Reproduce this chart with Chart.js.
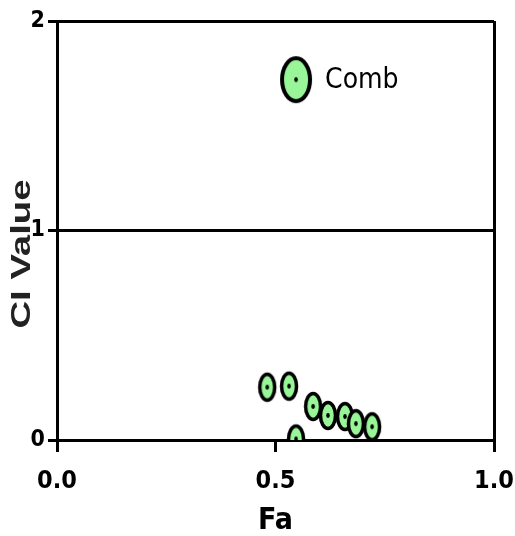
<!DOCTYPE html>
<html>
<head>
<meta charset="utf-8">
<script src="https://cdn.jsdelivr.net/npm/chart.js@4"></script>
<style>
html,body{margin:0;padding:0;background:#fff;}
#wrap{width:515px;height:536px;}
</style>
</head>
<body>
<div id="wrap"><canvas id="c" width="515" height="536"></canvas></div>
<script>
const faValues = [0.547, 0.481, 0.531, 0.547, 0.586, 0.620, 0.659, 0.684, 0.721];
const ciValues = [1.72, 0.252, 0.257, 0.005, 0.160, 0.117, 0.112, 0.078, 0.063];
const pointLabels = ['Comb', '', '', '', '', '', '', '', ''];
const pointKinds = ['big', 'small', 'small', 'small', 'small', 'small', 'small', 'small', 'small'];
const xTicks = [0.0, 0.5, 1.0];
const yTicks = [0, 1, 2];
const yTitle = 'CI Value';
const xTitle = 'Fa';

const pts = faValues.map((x, i) => ({x: x, y: ciValues[i]}));
const narrow = "'DejaVu Sans Condensed', 'Liberation Sans Narrow', sans-serif";

function ellipseImg(w, h, lw) {
  const c = document.createElement('canvas');
  c.width = w + lw * 2; c.height = h + lw * 2;
  const g = c.getContext('2d');
  g.beginPath();
  g.ellipse(c.width / 2, c.height / 2, w / 2, h / 2, 0, 0, Math.PI * 2);
  g.fillStyle = '#98F598';
  g.fill();
  g.lineWidth = lw;
  g.strokeStyle = '#000';
  g.stroke();
  g.beginPath();
  g.ellipse(c.width / 2, c.height / 2, 1.8, 2.4, 0, 0, Math.PI * 2);
  g.fillStyle = '#000';
  g.fill();
  return c;
}
const imgs = {big: ellipseImg(28, 43, 4), small: ellipseImg(15, 26, 3.5)};
const styles = pointKinds.map(k => imgs[k]);
const radii = pointKinds.map(k => k === 'big' ? 24 : 15);

const textPlugin = {
  id: 'extraText',
  afterDatasetsDraw(chart) {
    const ctx = chart.ctx;
    const xs = chart.scales.x, ys = chart.scales.y;
    ctx.save();
    ctx.font = "28px " + narrow;
    ctx.fillStyle = '#000';
    ctx.textBaseline = 'middle';
    ctx.textAlign = 'left';
    pointLabels.forEach((t, i) => {
      if (!t) return;
      ctx.fillText(t, xs.getPixelForValue(faValues[i]) + 29, ys.getPixelForValue(ciValues[i]) + 1);
    });
    ctx.restore();
    // y axis title (stretched like the reference)
    ctx.save();
    ctx.translate(23, 254);
    ctx.rotate(-Math.PI / 2);
    ctx.scale(1.42, 1);
    ctx.font = "bold 27px 'Liberation Sans', Arial, sans-serif";
    ctx.fillStyle = '#222';
    ctx.textAlign = 'center';
    ctx.textBaseline = 'middle';
    ctx.fillText(yTitle, 0, 0);
    ctx.restore();
  }
};

new Chart(document.getElementById('c'), {
  type: 'scatter',
  data: {
    datasets: [
      {
        data: pts,
        pointStyle: styles,
        pointRadius: radii,
        pointHoverRadius: radii
      }
    ]
  },
  options: {
    responsive: false,
    animation: false,
    events: [],
    layout: {autoPadding: false, padding: {top: 21, right: 21, left: 0, bottom: 0}},
    plugins: {legend: {display: false}, tooltip: {enabled: false}},
    scales: {
      x: {
        type: 'linear',
        min: 0, max: 1,
        afterBuildTicks: (s) => { s.ticks = xTicks.map(v => ({value: v})); },
        afterFit: (s) => { s.height = 96; s.paddingLeft = 0; s.paddingRight = 0; },
        ticks: {
          color: '#000',
          font: {family: narrow, size: 25, weight: 'bold'},
          padding: 14,
          maxRotation: 0,
          callback: (v) => Number(v).toFixed(1)
        },
        grid: {
          color: (c) => (c.tick && c.tick.value === 1) ? '#000' : 'rgba(0,0,0,0)',
          tickColor: '#000',
          lineWidth: 3,
          tickLength: 12
        },
        border: {display: true, color: '#000', width: 3},
        title: {
          display: true, text: xTitle, color: '#000',
          font: {family: narrow, size: 30, weight: 'bold', lineHeight: 1.0},
          padding: {top: 4, bottom: 0}
        }
      },
      y: {
        type: 'linear',
        min: 0, max: 2,
        afterBuildTicks: (s) => { s.ticks = yTicks.map(v => ({value: v})); },
        afterFit: (s) => { s.width = 57; s.paddingTop = 0; s.paddingBottom = 0; },
        ticks: {
          color: '#000',
          font: {family: narrow, size: 23, weight: 'bold'},
          padding: 3
        },
        grid: {
          color: '#000',
          tickColor: '#000',
          lineWidth: 3,
          tickLength: 9
        },
        border: {display: true, color: '#000', width: 3},
        title: {display: false}
      }
    }
  },
  plugins: [textPlugin]
});
</script>
</body>
</html>
